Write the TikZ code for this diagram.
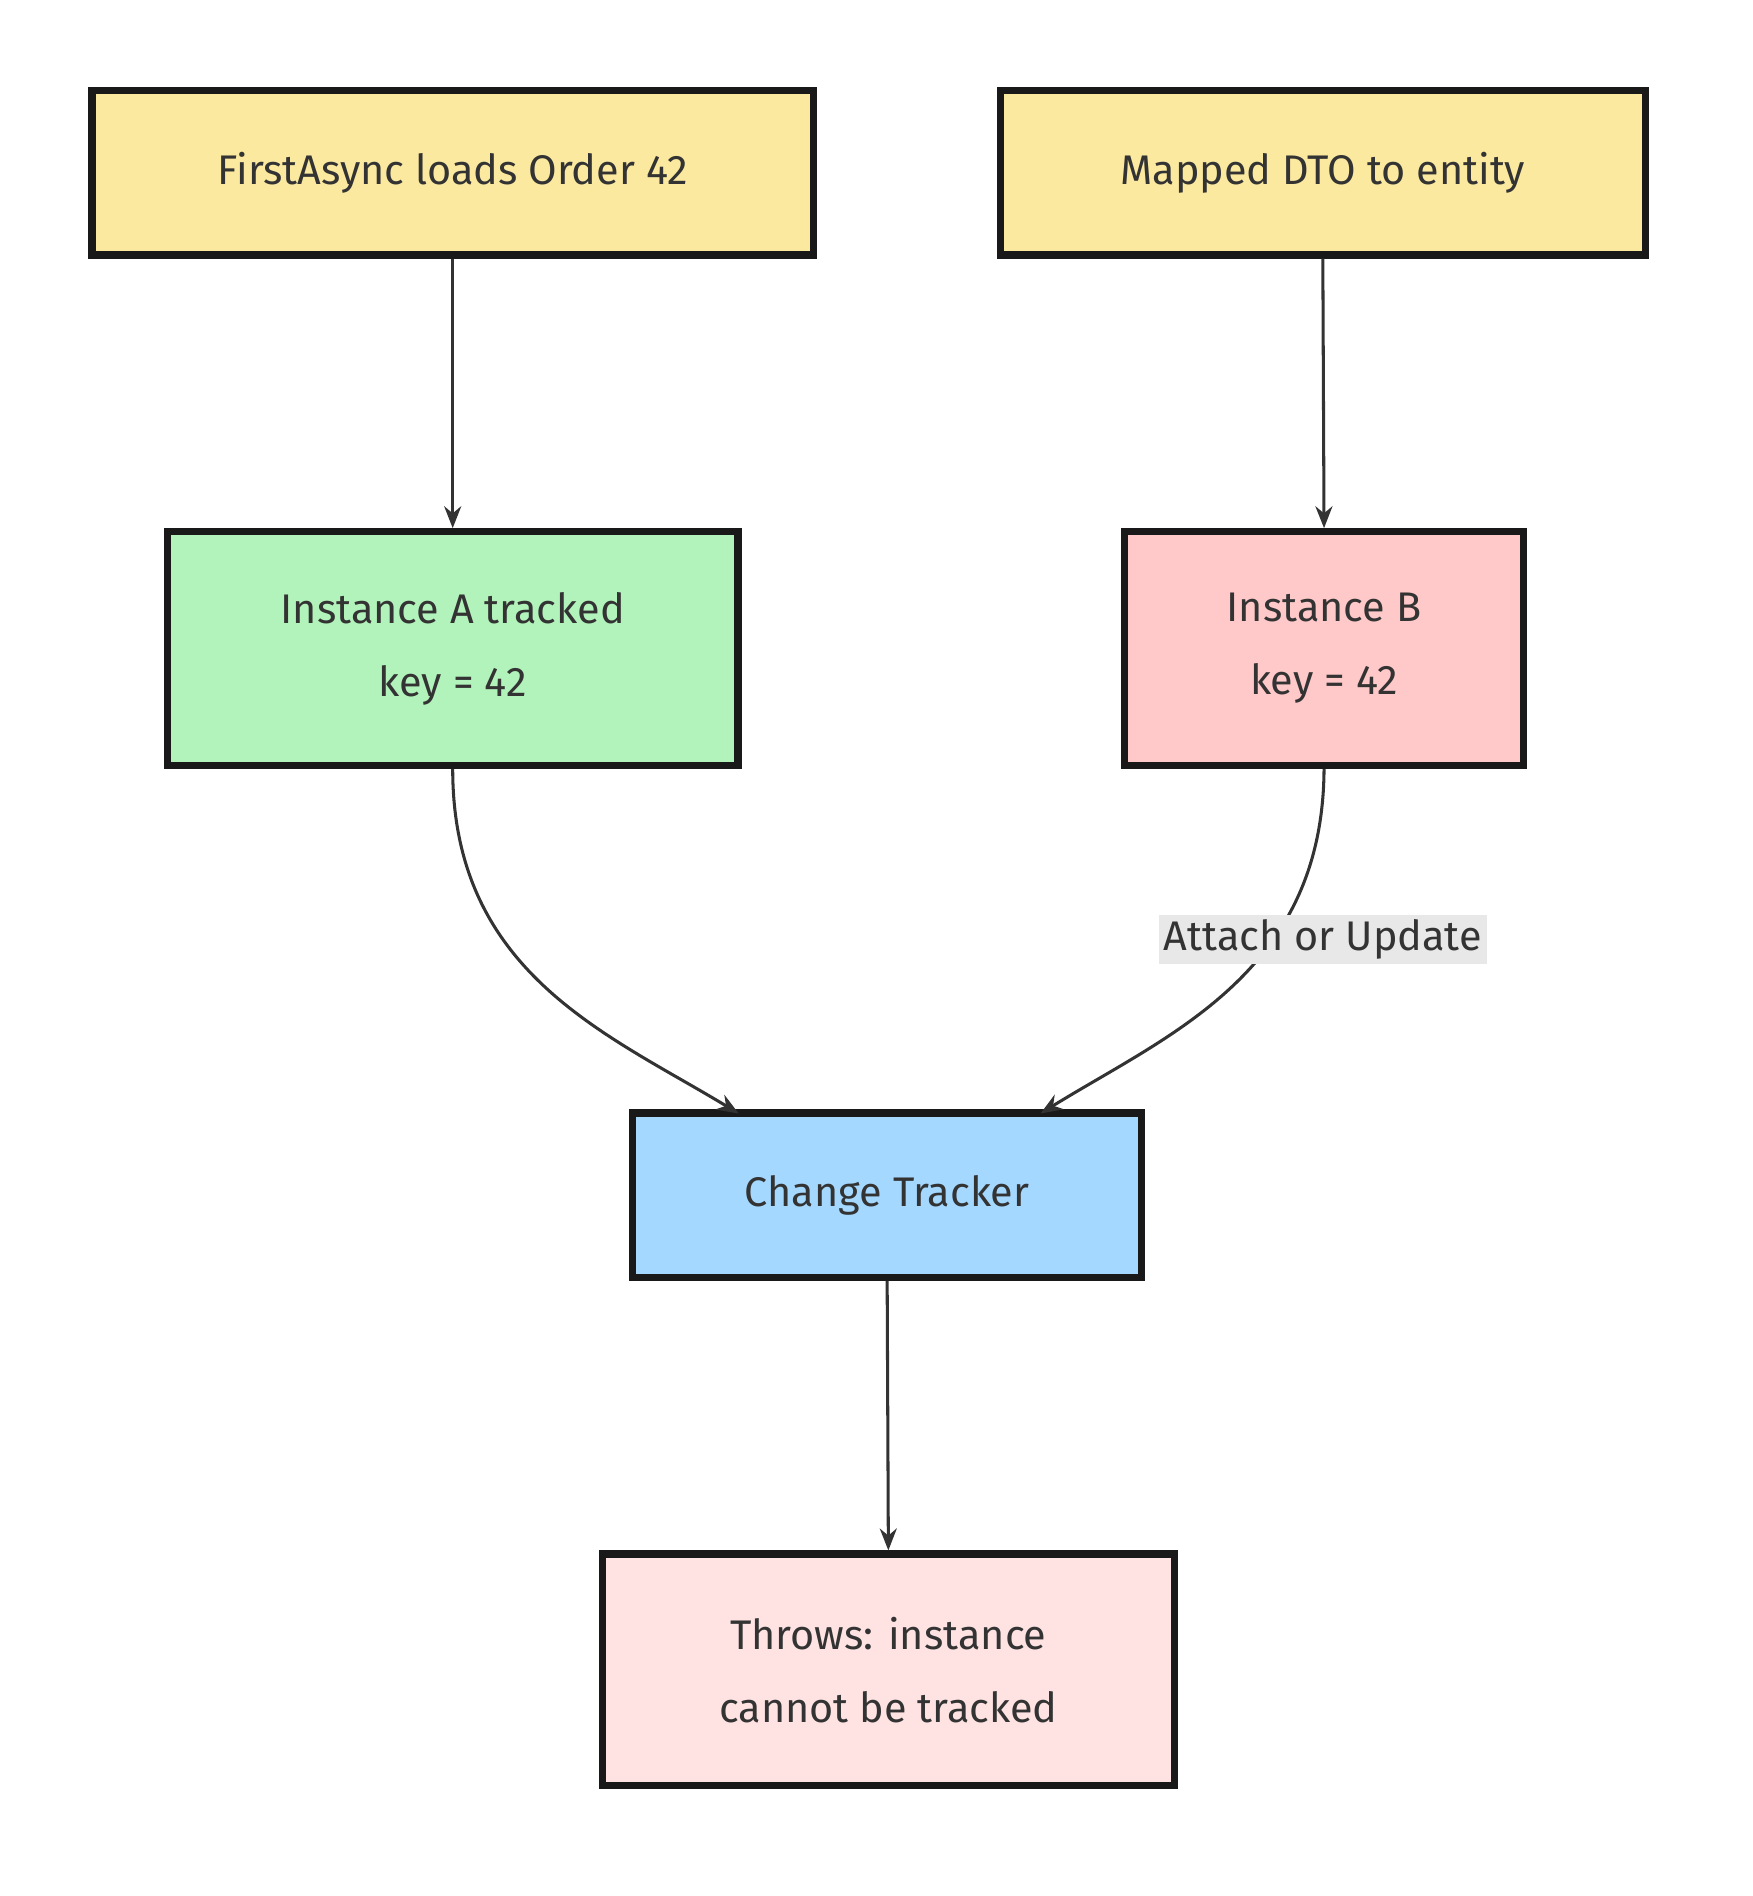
\documentclass[tikz,border=0pt]{standalone}
\usepackage{fontspec}
\setmainfont{Fira Sans}
\usetikzlibrary{arrows.meta}
\definecolor{cy}{HTML}{FBE9A0}
\definecolor{cg}{HTML}{B2F2BB}
\definecolor{cr}{HTML}{FFC9C9}
\definecolor{cb}{HTML}{A5D8FF}
\definecolor{cp}{HTML}{FFE3E3}
\definecolor{tx}{HTML}{333333}
\begin{document}
\begin{tikzpicture}[x=1pt,y=-1pt,
 box/.style={draw=black!90,line width=6pt,rectangle,align=center,text=tx,font=\fontsize{34}{60}\selectfont,inner sep=0pt},
 arr/.style={draw=tx,line width=2.5pt,-{Stealth[length=18pt,width=14pt]}}]
\useasboundingbox (0,0) rectangle (1440,1558);
\node[box,fill=cy,minimum width=593,minimum height=135] (n1) at (372,142) {FirstAsync loads Order 42};
\node[box,fill=cy,minimum width=530,minimum height=135] (n2) at (1087,142) {Mapped DTO to entity};
\node[box,fill=cg,minimum width=469,minimum height=192] (n3) at (372,533) {Instance A tracked\\key = 42};
\node[box,fill=cr,minimum width=328,minimum height=192] (n4) at (1088,533) {Instance B\\key = 42};
\node[box,fill=cb,minimum width=418,minimum height=135] (n5) at (729,982) {Change Tracker};
\node[box,fill=cp,minimum width=470,minimum height=190] (n6) at (730,1372) {Throws: instance\\cannot be tracked};
\draw[arr] (n1.south) -- (n3.north);
\draw[arr] (n2.south) -- (n4.north);
\draw[arr] (n3.south) .. controls (372,800) and (500,850) .. (607,915);
\draw[arr] (n4.south) .. controls (1087,800) and (960,850) .. (855,915);
\node[fill=black!9,text=tx,font=\fontsize{34}{40}\selectfont,inner sep=4pt] (lb) at (1087,772) {Attach or Update};
\draw[arr] (n5.south) -- (n6.north);
\end{tikzpicture}
\end{document}
